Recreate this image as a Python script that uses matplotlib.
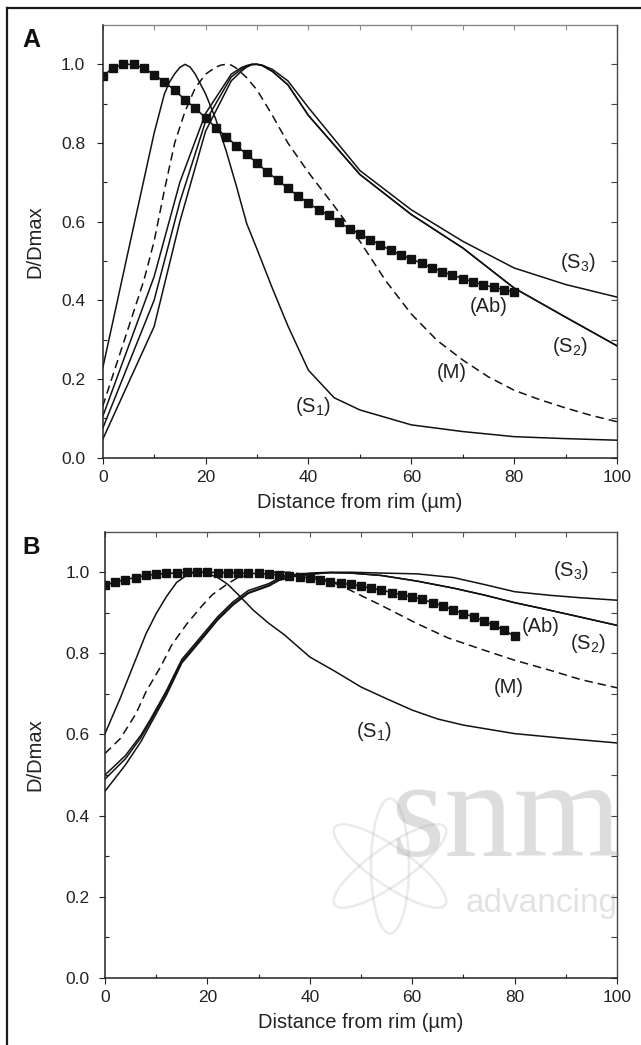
import matplotlib
matplotlib.use("Agg")
import matplotlib.pyplot as plt
from matplotlib.ticker import FormatStrFormatter
from matplotlib.patches import Ellipse
from matplotlib.lines import Line2D

plt.rcParams['font.family'] = ['Liberation Sans', 'DejaVu Sans']
plt.rcParams['mathtext.fontset'] = 'custom'
plt.rcParams['mathtext.rm'] = 'Liberation Sans'
plt.rcParams['mathtext.it'] = 'Liberation Sans:italic'

# ---------------- Panel A data ----------------
ab_x = [0, 2, 4, 6, 8, 10, 12, 14, 16, 18, 20, 22, 24, 26, 28, 30, 32, 34, 36, 38, 40,
        42, 44, 46, 48, 50, 52, 54, 56, 58, 60, 62, 64, 66, 68, 70, 72, 74, 76, 78, 80]
ab_a = [0.970, 0.991, 1.000, 1.000, 0.990, 0.974, 0.955, 0.934, 0.910, 0.888, 0.864,
        0.839, 0.816, 0.793, 0.771, 0.749, 0.726, 0.706, 0.685, 0.665, 0.647,
        0.630, 0.616, 0.598, 0.582, 0.569, 0.554, 0.541, 0.527, 0.515, 0.505,
        0.494, 0.483, 0.473, 0.464, 0.455, 0.447, 0.439, 0.433, 0.427, 0.421]

s1_a_x = [0, 5, 10, 12, 13, 14, 15, 16, 17, 18, 20, 22, 24, 26, 28, 30, 33, 36, 40, 45, 50,
          60, 70, 80, 90, 100]
s1_a = [0.227, 0.527, 0.825, 0.925, 0.955, 0.976, 0.992, 1.000, 0.993, 0.975, 0.925, 0.860,
        0.780, 0.690, 0.595, 0.530, 0.430, 0.335, 0.222, 0.152, 0.121, 0.083, 0.066, 0.053,
        0.048, 0.044]

m_a_x = [0, 5, 8, 10, 12, 14, 16, 18, 20, 22, 23, 24, 25, 26, 28, 30, 33, 36, 40, 45, 50,
         55, 60, 65, 70, 75, 80, 85, 90, 95, 100]
m_a = [0.13, 0.33, 0.45, 0.55, 0.68, 0.80, 0.88, 0.94, 0.975, 0.993, 0.998, 1.0, 0.998,
       0.99, 0.966, 0.935, 0.87, 0.80, 0.725, 0.64, 0.55, 0.45, 0.365, 0.298, 0.248, 0.205,
       0.171, 0.147, 0.126, 0.107, 0.091]

sx_a = [0, 10, 15, 20, 25, 27, 28, 29, 30, 31, 33, 36, 40, 50, 60, 70, 80, 90, 100]
s3_a = [0.104, 0.46, 0.70, 0.875, 0.975, 0.992, 0.997, 1.0, 1.0, 0.998, 0.987, 0.958, 0.89,
        0.73, 0.63, 0.55, 0.482, 0.44, 0.408]
s2_a = [0.074, 0.40, 0.65, 0.855, 0.968, 0.988, 0.995, 1.0, 1.0, 0.997, 0.982, 0.948, 0.87,
        0.72, 0.618, 0.533, 0.431, 0.357, 0.284]
s4_a = [0.046, 0.333, 0.60, 0.83, 0.958, 0.983, 0.993, 0.999, 1.0, 0.997, 0.982, 0.948, 0.87,
        0.72, 0.618, 0.533, 0.431, 0.357, 0.284]

# ---------------- Panel B data ----------------
ab_b = [0.968, 0.976, 0.982, 0.987, 0.992, 0.995, 0.997, 0.998, 1.000, 1.000, 1.000,
        0.999, 0.999, 0.998, 0.997, 0.997, 0.995, 0.993, 0.991, 0.989, 0.986,
        0.981, 0.976, 0.973, 0.970, 0.966, 0.960, 0.956, 0.950, 0.945, 0.939,
        0.933, 0.925, 0.917, 0.907, 0.898, 0.890, 0.879, 0.869, 0.857, 0.842]

s1_b_x = [0, 3, 6, 8, 10, 12, 14, 16, 17, 18, 19, 20, 22, 24, 26, 29, 32, 35, 40, 45, 50,
          55, 60, 65, 70, 80, 90, 100]
s1_b = [0.602, 0.690, 0.785, 0.848, 0.898, 0.940, 0.975, 0.993, 0.998, 1.0, 1.0, 0.997,
        0.987, 0.970, 0.945, 0.906, 0.874, 0.846, 0.791, 0.755, 0.717, 0.688, 0.660, 0.638,
        0.623, 0.602, 0.590, 0.579]

m_b_x = [0, 3, 6, 8, 11, 13, 16, 19, 21, 24, 26, 29, 32, 36, 40, 44, 48, 54, 61, 67, 74,
         80, 87, 93, 100]
m_b = [0.553, 0.590, 0.650, 0.705, 0.770, 0.820, 0.873, 0.918, 0.945, 0.972, 0.987, 0.997,
       1.0, 1.0, 0.992, 0.978, 0.955, 0.918, 0.873, 0.838, 0.808, 0.783, 0.758, 0.735, 0.715]

sx_b = [0, 4, 7, 9, 12, 15, 19, 22, 25, 28, 32, 34, 37, 40, 44, 48, 54, 61, 68, 74, 80,
        87, 93, 100]
s3_b = [0.50, 0.548, 0.598, 0.640, 0.708, 0.785, 0.845, 0.89, 0.927, 0.955, 0.972, 0.986,
        0.994, 0.998, 1.0, 1.0, 0.998, 0.996, 0.987, 0.97, 0.952, 0.943, 0.937, 0.931]
s2_b = [0.49, 0.540, 0.592, 0.635, 0.703, 0.78, 0.84, 0.885, 0.922, 0.95, 0.968, 0.982,
        0.991, 0.996, 0.999, 0.998, 0.992, 0.978, 0.961, 0.944, 0.925, 0.906, 0.889, 0.869]
s4_b = [0.46, 0.525, 0.582, 0.628, 0.697, 0.776, 0.836, 0.882, 0.919, 0.948, 0.966, 0.98,
        0.99, 0.995, 0.999, 0.998, 0.992, 0.978, 0.961, 0.944, 0.925, 0.906, 0.889, 0.869]

labels_a = {'(S$_3$)': (92.4, 0.497), '(Ab)': (75.1, 0.383), '(S$_2$)': (90.9, 0.282),
            '(M)': (67.9, 0.215), '(S$_1$)': (40.9, 0.129)}
labels_b = {'(S$_3$)': (91.0, 1.005), '(Ab)': (85.1, 0.865), '(S$_2$)': (94.3, 0.825),
            '(M)': (78.9, 0.716), '(S$_1$)': (52.5, 0.606)}

x_major = [0, 20, 40, 60, 80, 100]
x_minor = [10, 30, 50, 70, 90]
x_top = [0, 10, 20, 30, 40, 50, 60, 70, 80, 90, 100]
y_major = [0.0, 0.2, 0.4, 0.6, 0.8, 1.0]
y_minor = [0.1, 0.3, 0.5, 0.7, 0.9]
y_right = [0.0, 0.1, 0.2, 0.3, 0.4, 0.5, 0.6, 0.7, 0.8, 0.9, 1.0]

W, H = 641, 1045
fig = plt.figure(figsize=(W / 100, H / 100), dpi=100)

def px_axes(l, t, r, b):
    return fig.add_axes([l / W, 1 - b / H, (r - l) / W, (b - t) / H])

axA = px_axes(102.7, 25, 617, 457.5)
axB = px_axes(105, 531.7, 617, 977.7)

def style(ax, top_col, ypad):
    ax.set_xlim(0, 100)
    ax.set_ylim(0, 1.1)
    ax.set_xticks(x_major)
    ax.set_xticks(x_minor, minor=True)
    ax.set_yticks(y_major)
    ax.set_yticks(y_minor, minor=True)
    ax.yaxis.set_major_formatter(FormatStrFormatter('%.1f'))
    ax.tick_params(which='major', direction='out', length=4.1, width=0.8,
                   labelsize=12.5, colors='#222222')
    ax.tick_params(axis='x', which='major', pad=5)
    ax.tick_params(axis='y', which='major', pad=ypad)
    ax.tick_params(which='minor', direction='in', length=2.6, width=0.8, colors='#222222')
    for s in ['left', 'bottom']:
        ax.spines[s].set_linewidth(1.1)
        ax.spines[s].set_color('#222222')
    ax.spines['top'].set_visible(False)
    ax.spines['right'].set_visible(False)
    sx = ax.secondary_xaxis('top')
    sx.set_xticks(x_top)
    sx.tick_params(direction='in', length=3.6, width=0.8, labeltop=False, colors=top_col)
    sx.spines['top'].set_color(top_col)
    sx.spines['top'].set_linewidth(1.0)
    sy = ax.secondary_yaxis('right')
    sy.set_yticks(y_right)
    sy.tick_params(direction='in', length=4.0, width=0.8, labelright=False, colors='#444444')
    sy.spines['right'].set_color('#444444')
    sy.spines['right'].set_linewidth(1.0)
    ax.set_xlabel('Distance from rim (\u00b5m)', fontsize=14.5, color='#222222')
    ax.set_ylabel('D/Dmax', fontsize=14.5, color='#222222')

style(axA, '#8a8a8a', 8.5)
style(axB, '#555555', 6.7)
axA.xaxis.set_label_coords(0.5, -0.083)
axB.xaxis.set_label_coords(0.5, -0.079)
axA.yaxis.set_label_coords(-0.113, 0.5)
axB.yaxis.set_label_coords(-0.118, 0.5)

lw = 1.1
dash = (5.5, 3.3)

def draw(ax, s1x, s1, mx, m, sx, s3, s2, s4, ab, labels):
    ax.plot(s1x, s1, color='#111111', lw=lw)
    ax.plot(mx, m, color='#111111', lw=lw, dashes=dash)
    ax.plot(sx, s3, color='#111111', lw=lw)
    ax.plot(sx, s2, color='#111111', lw=lw)
    ax.plot(sx, s4, color='#111111', lw=lw)
    ax.plot(ab_x, ab, color='#111111', lw=lw, marker='s', markersize=5.3)
    for txt, (x, y) in labels.items():
        ax.text(x, y, txt, fontsize=14.5, ha='center', va='center', color='#222222')

draw(axA, s1_a_x, s1_a, m_a_x, m_a, sx_a, s3_a, s2_a, s4_a, ab_a, labels_a)
draw(axB, s1_b_x, s1_b, m_b_x, m_b, sx_b, s3_b, s2_b, s4_b, ab_b, labels_b)

# overlay in pixel coordinates: frame, panel letters, watermark
ov = fig.add_axes([0, 0, 1, 1], zorder=5)
ov.set_xlim(0, W)
ov.set_ylim(H, 0)
ov.axis('off')
ov.patch.set_alpha(0)
ov.add_line(Line2D([6.7, 6.7], [8.3, H], color='#1a1a1a', lw=1.6))
ov.add_line(Line2D([6.7, W], [8.3, 8.3], color='#1a1a1a', lw=1.6))
ov.text(22, 28, 'A', fontsize=18, fontweight='bold', ha='left', va='top', color='#111111')
ov.text(22, 536, 'B', fontsize=17.5, fontweight='bold', ha='left', va='top', color='#111111')

wm = '#9a9a9a'
ov.text(390, 856, 'snm', fontsize=100, family='Liberation Serif', color=wm, alpha=0.33,
        ha='left', va='baseline')
ov.text(466, 912, 'advancing', fontsize=24, color=wm, alpha=0.28, ha='left', va='baseline')
for ang in [35, -35, 90]:
    ov.add_patch(Ellipse((390, 866), 135, 38, angle=ang, fill=False, ec=wm, lw=1.8, alpha=0.2))

fig.savefig('out.png', dpi=100)
